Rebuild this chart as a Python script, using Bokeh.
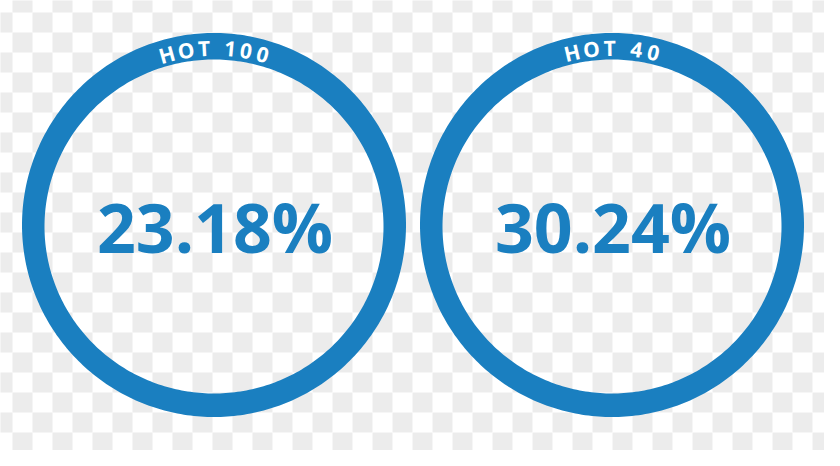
import numpy as np
from bokeh.plotting import figure
from bokeh.models import Range1d, ColumnDataSource
from bokeh.core.properties import value
from bokeh.embed import file_html
from bokeh.resources import INLINE

# ---- data ----
labels = ["HOT 100", "HOT 40"]
percentages = [23.18, 30.24]

# ---- style ----
BLUE = "#1a7fc0"
CHECK = "#ececec"
FONT = "Open Sans"

PAGE_H = 466
W, H = 824, 450
p = figure(width=W, height=H, output_backend="svg", toolbar_location=None,
           x_range=Range1d(8, 8 + W), y_range=Range1d(PAGE_H - 8 - H, PAGE_H - 8),
           x_axis_type=None, y_axis_type=None, min_border=0,
           background_fill_color="white", border_fill_color="white")
p.outline_line_color = None
p.grid.visible = False


def fy(y_img):
    # image-style (top-down) vertical coordinate -> plot coordinate
    return PAGE_H - np.asarray(y_img, dtype=float)


# checkerboard background (transparent-image look)
gi, gj = np.meshgrid(np.arange(43), np.arange(24))
mask = ((gi + gj) % 2 == 1).ravel()
p.rect(x=(gi.ravel()[mask] * 20 + 10), y=fy(gj.ravel()[mask] * 20 + 10),
       width=20, height=20, fill_color=CHECK, line_color=None)

cy_img = 232.5
cy = float(fy(cy_img))
r_out = 192
in_rx, in_ry, in_dy = 169.5, 167.0, 1.5   # inner edge: slightly thicker band at top
centers = [221.5 + k * 398 for k in range(len(labels))]

# rings (outer circle with an inner hole)
t = np.linspace(0, 2 * np.pi, 361)
ring_xs, ring_ys = [], []
for cx in centers:
    ox = cx + r_out * np.cos(t)
    oy = cy + r_out * np.sin(t)
    ix = cx + in_rx * np.cos(t)
    iy = (cy - in_dy) + in_ry * np.sin(t)
    ring_xs.append([[list(ox), list(ix[::-1])]])
    ring_ys.append([[list(oy), list(iy[::-1])]])
p.multi_polygons(xs=ring_xs, ys=ring_ys, fill_color=BLUE, line_color=None)

# percentage text
p.text(x=[c + 1 for c in centers], y=[float(fy(234))] * len(centers),
       text=[f"{v:.2f}%" for v in percentages],
       text_font=value(FONT), text_font_style="bold", text_font_size="68px",
       text_color=BLUE, text_align="center", text_baseline="middle")

# curved labels
adv = {"H": 0.74, "O": 0.78, "T": 0.60, " ": 0.30, "1": 0.55, "0": 0.62, "4": 0.64}
fs = 21
track = 3.8
r_mid = 177
xs, ys, chars, angs = [], [], [], []
for cx, lab in zip(centers, labels):
    widths = [adv.get(c, 0.6) * fs + track for c in lab]
    total = sum(widths)
    s = -total / 2
    for c, w in zip(lab, widths):
        sc = s + w / 2
        s += w
        if c == " ":
            continue
        phi = sc / r_mid
        xs.append(cx + r_mid * np.sin(phi))
        ys.append(cy + r_mid * np.cos(phi))
        chars.append(c)
        angs.append(-phi)
src = ColumnDataSource(dict(x=xs, y=ys, text=chars, angle=angs))
p.text(x="x", y="y", text="text", angle="angle", source=src,
       text_font=value(FONT), text_font_style="bold", text_font_size=f"{fs}px",
       text_color="white", text_align="center", text_baseline="middle")

open("out.html", "w").write(file_html(p, INLINE))
